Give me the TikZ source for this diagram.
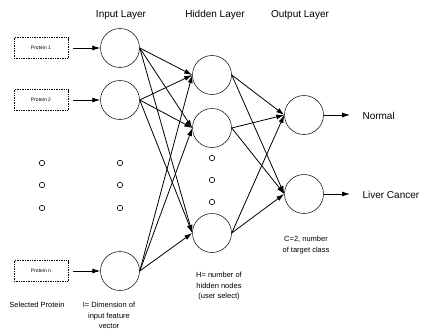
\documentclass[tikz,border=0pt]{standalone}
\usepackage{fontspec}
\setmainfont{Liberation Sans}
\usetikzlibrary{arrows.meta}
\begin{document}
\begin{tikzpicture}[x=1pt,y=-1pt,
  neuron/.style={circle,draw,line width=0.5pt,minimum size=39pt,inner sep=0pt},
  pbox/.style={draw,densely dotted,line width=0.7pt,minimum width=54pt,minimum height=21pt,inner sep=0pt,font=\fontsize{5}{6}\selectfont},
  dotc/.style={circle,draw,line width=0.6pt,minimum size=5.5pt,inner sep=0pt},
  conn/.style={-{Latex[length=8pt,width=5pt]},line width=0.8pt},
  lab/.style={font=\fontsize{10}{12}\selectfont},
  note/.style={font=\fontsize{7.5}{10.5}\selectfont,align=center,anchor=north,inner sep=0pt},
]
\useasboundingbox (0,0) rectangle (425,332);
\node[lab] (tin) at (121,15) {Input Layer};
\node[lab] (thid) at (215,15) {Hidden Layer};
\node[lab] (tout) at (300,15) {Output Layer};

\node[pbox] (p1) at (41,48) {Protein 1};
\node[pbox] (p2) at (41,100) {Protein 2};
\node[pbox] (pn) at (41,271) {Protein n};

\node[neuron] (i1) at (120,48) {};
\node[neuron] (i2) at (120,100) {};
\node[neuron] (i3) at (120,271) {};
\node[neuron] (h1) at (212,75) {};
\node[neuron] (h2) at (212,128) {};
\node[neuron] (h3) at (212,233) {};
\node[neuron] (o1) at (304,115) {};
\node[neuron] (o2) at (304,194) {};

\foreach \x/\n in {42/a,120/b}
  \foreach \y/\m in {163/1,185/2,208/3}
    \node[dotc] (d\n\m) at (\x,\y) {};
\foreach \y/\m in {158/1,180/2,202/3}
  \node[dotc] (dh\m) at (212,\y) {};

\draw[conn,shorten <=5pt] (p1.east) -- (i1.west);
\draw[conn,shorten <=5pt] (p2.east) -- (i2.west);
\draw[conn,shorten <=5pt] (pn.east) -- (i3.west);

\foreach \i in {i1,i2,i3}
  \foreach \h in {h1,h2,h3}
    \draw[conn] (\i.east) -- (\h.west);
\foreach \h in {h1,h2,h3}
  \foreach \o in {o1,o2}
    \draw[conn] (\h.east) -- (\o.west);

\coordinate (e1) at (350,115);
\coordinate (e2) at (350,194);
\draw[conn] (o1.east) -- (e1);
\draw[conn] (o2.east) -- (e2);
\node[lab,anchor=west] (n1) at (359,116) {Normal};
\node[lab,anchor=west] (n2) at (359,195) {Liver Cancer};

\node[note] (sp) at (37,302) {Selected Protein};
\node[note] (idim) at (109,302) {I= Dimension of\\input feature\\vector};
\node[note] (hnum) at (219,272) {H= number of\\hidden nodes\\(user select)};
\node[note] (cnum) at (306,236) {C=2, number\\of target class};
\end{tikzpicture}
\end{document}
